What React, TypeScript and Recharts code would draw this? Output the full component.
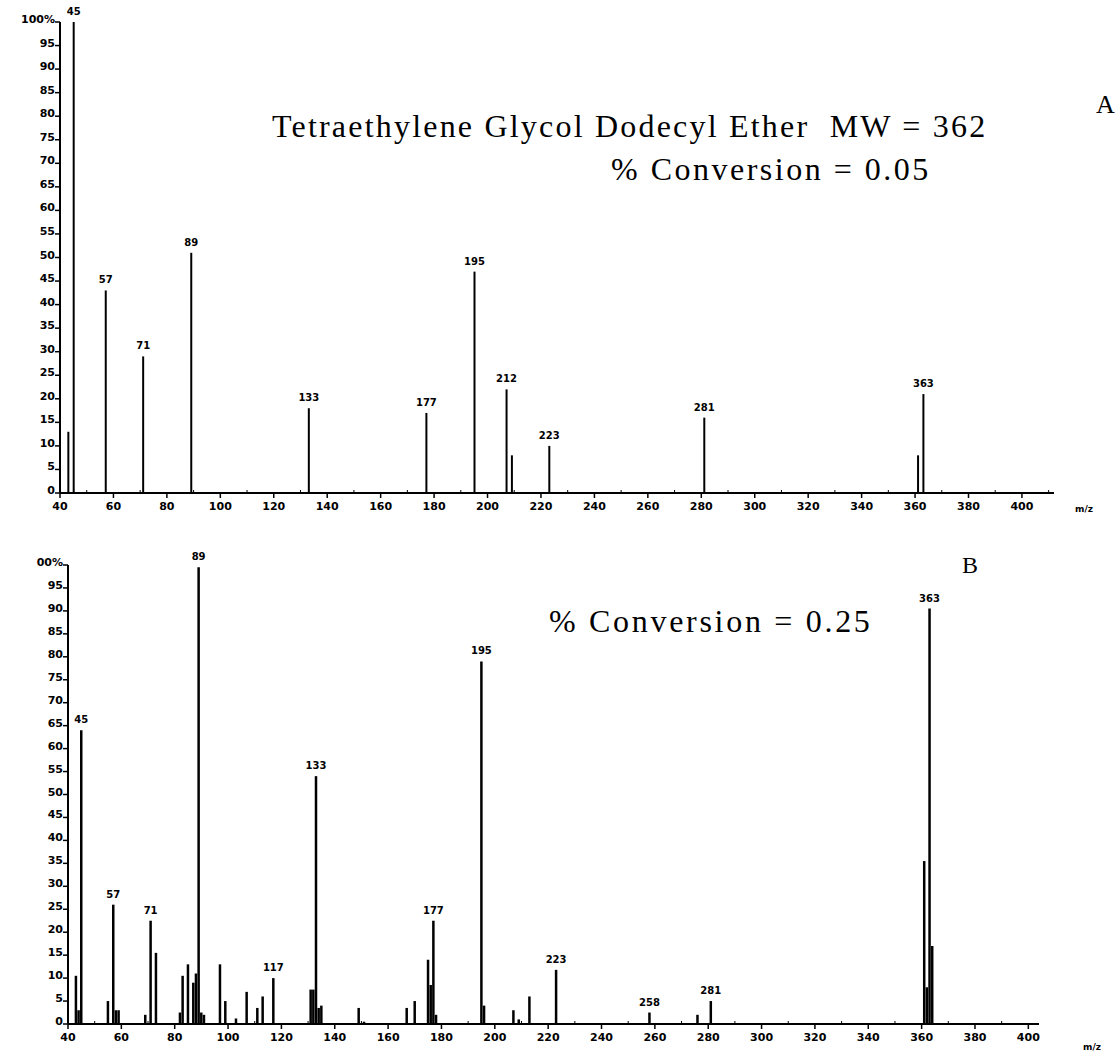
import React from 'react';
import { BarChart, Bar, XAxis, YAxis, LabelList } from 'recharts';

// panel A: % conversion 0.05
const mzA = [43, 45, 57, 71, 89, 133, 177, 195, 207, 209, 223, 281, 361, 363];
const intensityA = [13, 100, 43, 29, 51, 18, 17, 47, 22, 8, 10, 16, 8, 21];
const labelMzA = [45, 57, 71, 89, 133, 177, 195, 207, 223, 281, 363];
const labelTextA = ['45', '57', '71', '89', '133', '177', '195', '212', '223', '281', '363'];

// panel B: % conversion 0.25
const mzB = [
  43, 44, 45, 55, 57, 58, 59, 69, 71, 73, 82, 83, 85, 87, 88, 89, 90, 91, 97, 99,
  103, 107, 111, 113, 117, 131, 132, 133, 134, 135, 149, 151, 167, 170, 175, 176,
  177, 178, 195, 196, 207, 209, 213, 223, 258, 276, 281, 361, 362, 363, 364,
];
const intensityB = [
  10.5, 3, 64, 5, 26, 3, 3, 2, 22.5, 15.5, 2.5, 10.5, 13, 9, 11, 99.5, 2.5, 2, 13, 5,
  1.2, 7, 3.5, 6, 10, 7.5, 7.5, 54, 3.5, 4, 3.5, 0.5, 3.5, 5, 14, 8.5,
  22.5, 2, 79, 4, 3, 1, 6, 11.8, 2.5, 2, 5, 35.5, 8, 90.5, 17,
];
const labelMzB = [45, 57, 71, 89, 117, 133, 177, 195, 223, 258, 281, 363];
const labelTextB = ['45', '57', '71', '89', '117', '133', '177', '195', '223', '258', '281', '363'];

const yTicks = [0, 5, 10, 15, 20, 25, 30, 35, 40, 45, 50, 55, 60, 65, 70, 75, 80, 85, 90, 95, 100];
const xTicksA = [40, 50, 60, 70, 80, 90, 100, 110, 120, 130, 140, 150, 160, 170, 180, 190, 200, 210, 220, 230, 240, 250, 260, 270, 280, 290, 300, 310, 320, 330, 340, 350, 360, 370, 380, 390, 400, 410];
const xTicksB = xTicksA.filter((t) => t <= 400);

const rows = (mz: number[], val: number[], lmz: number[], ltxt: string[]) =>
  mz.map((m, i) => {
    const k = lmz.indexOf(m);
    return { mz: m, value: val[i], label: k >= 0 ? ltxt[k] : '' };
  });

const dataA = rows(mzA, intensityA, labelMzA, labelTextA);
const dataB = rows(mzB, intensityB, labelMzB, labelTextB);

const tickFont = '"DejaVu Sans", sans-serif';

const XTick = ({ x, y, payload }: any) => {
  const major = payload.value % 20 === 0;
  return (
    <g>
      {major ? (
        <line x1={x} x2={x} y1={y} y2={y + 5} stroke="#000" strokeWidth={1.5} />
      ) : (
        <line x1={x} x2={x} y1={y - 3} y2={y} stroke="#000" strokeWidth={1} />
      )}
      {major && (
        <text x={x} y={y + 17} textAnchor="middle" fontSize={11} fontWeight="bold" fontFamily={tickFont} fill="#000">
          {payload.value}
        </text>
      )}
    </g>
  );
};

const makeYTick = (topText: string) => ({ x, y, payload }: any) => (
  <g>
    <line x1={x - 5} x2={x} y1={y} y2={y} stroke="#000" strokeWidth={1.5} />
    <text x={x - 5} y={y + 1} textAnchor="end" fontSize={11} fontWeight="bold" fontFamily={tickFont} fill="#000">
      {payload.value === 100 ? topText : payload.value}
    </text>
  </g>
);

const PeakLabel = ({ x, y, width, value }: any) => {
  if (!value) return null;
  return (
    <text x={x + width / 2} y={y - 7} textAnchor="middle" fontSize={10} fontWeight="bold" fontFamily={tickFont} fill="#000">
      {value}
    </text>
  );
};

const serif = '"Liberation Serif", "Times New Roman", serif';

const note = (left: number, top: number, size: number, spacing = 0): React.CSSProperties => ({
  position: 'absolute',
  left,
  top,
  fontFamily: serif,
  fontSize: size,
  letterSpacing: spacing,
  lineHeight: 1,
  whiteSpace: 'pre',
  color: '#000',
});

const mzNote = (left: number, top: number): React.CSSProperties => ({
  position: 'absolute',
  left,
  top,
  fontFamily: tickFont,
  fontSize: 9,
  fontWeight: 'bold',
  lineHeight: 1,
  color: '#000',
});

export default function App() {
  return (
    <div style={{ position: 'absolute', left: 0, top: 0, width: 1115, height: 1055, background: '#fff', overflow: 'hidden' }}>
      <div style={{ position: 'absolute', left: 0, top: 0 }}>
        <BarChart width={1115} height={530} data={dataA} margin={{ top: 22, right: 61, left: 20, bottom: 7 }}>
          <XAxis
            dataKey="mz"
            type="number"
            domain={[40, 412]}
            ticks={xTicksA}
            interval={0}
            height={30}
            tickSize={0}
            tickMargin={0}
            tickLine={false}
            tick={<XTick />}
            axisLine={{ stroke: '#000', strokeWidth: 2 }}
          />
          <YAxis
            type="number"
            domain={[0, 100]}
            ticks={yTicks}
            interval={0}
            width={40}
            tickSize={0}
            tickMargin={0}
            tickLine={false}
            tick={makeYTick('100%')}
            axisLine={{ stroke: '#000', strokeWidth: 2 }}
          />
          <Bar dataKey="value" fill="#000" barSize={2} isAnimationActive={false}>
            <LabelList dataKey="label" content={<PeakLabel />} />
          </Bar>
        </BarChart>
      </div>
      <div style={{ position: 'absolute', left: 0, top: 530 }}>
        <BarChart width={1115} height={525} data={dataB} margin={{ top: 35, right: 76, left: 28, bottom: 1 }}>
          <XAxis
            dataKey="mz"
            type="number"
            domain={[40, 404]}
            ticks={xTicksB}
            interval={0}
            height={30}
            tickSize={0}
            tickMargin={0}
            tickLine={false}
            tick={<XTick />}
            axisLine={{ stroke: '#000', strokeWidth: 2 }}
          />
          <YAxis
            type="number"
            domain={[0, 100]}
            ticks={yTicks}
            interval={0}
            width={40}
            tickSize={0}
            tickMargin={0}
            tickLine={false}
            tick={makeYTick('00%')}
            axisLine={{ stroke: '#000', strokeWidth: 2 }}
          />
          <Bar dataKey="value" fill="#000" barSize={2.5} isAnimationActive={false}>
            <LabelList dataKey="label" content={<PeakLabel />} />
          </Bar>
        </BarChart>
      </div>

      <div style={note(272, 110, 32, 2.2)}>{'Tetraethylene Glycol Dodecyl Ether  MW = 362'}</div>
      <div style={note(611, 153, 32, 2.5)}>{'% Conversion = 0.05'}</div>
      <div style={note(1096, 92, 26)}>A</div>
      <div style={mzNote(1075, 505)}>m/z</div>

      <div style={note(549, 605, 32, 2.7)}>{'% Conversion = 0.25'}</div>
      <div style={note(962, 553, 24)}>B</div>
      <div style={mzNote(1083, 1043)}>m/z</div>
    </div>
  );
}
